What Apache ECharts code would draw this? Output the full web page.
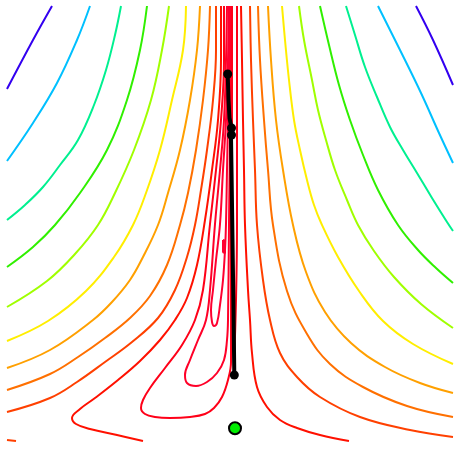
<!DOCTYPE html>
<html>
<head>
<meta charset="utf-8">
<script src="https://cdn.jsdelivr.net/npm/echarts@6/dist/echarts.min.js"></script>
<style>html,body{margin:0;padding:0;background:#fff;}#c{width:460px;height:449px;}</style>
</head>
<body>
<div id="c"></div>
<script>
// contour level colours (low -> high)
const levelColors = ['#ff0030','#ff0028','#ff0018','#ff1000','#ff4000','#ff7000','#ffa000','#ffee00','#a0ff00','#30f000','#00f090','#00c0ff','#3300f0'];

// traced contour polylines (x, y in plot units; y grows downward)
const blueL = [[52,6],[33,40],[7,89]];
const blueR = [[416,6],[433,40],[453,85]];
const cyanL = [[90,6],[77,40],[57,83],[33,123],[7,161]];
const cyanR = [[378,6],[400,50],[421,93],[439,133],[453,163]];
const sgL = [[121,6],[115,35],[106,70],[94,105],[78,140],[60,165],[43,187],[25,205],[7,220]];
const sgR = [[346,6],[355,35],[365,67],[377,97],[390,127],[403,150],[417,173],[432,198],[447,222],[453,231]];
const greenL = [[147,6],[140,50],[127,100],[107,150],[80,193],[55,225],[33,247],[7,267]];
const greenR = [[320,6],[329,45],[339,85],[350,120],[363,155],[378,190],[398,225],[418,250],[436,268],[453,283]];
const ygL = [[169,6],[162,50],[151,100],[134,150],[115,193],[98,225],[75,254],[47,281],[7,307]];
const ygR = [[299,6],[304,40],[312,80],[318,110],[326,140],[335,170],[347,200],[358,225],[374,251],[394,277],[421,304],[453,328]];
const yelL = [[186,6],[183,50],[172,100],[160,150],[146,193],[133,225],[114,257],[86,291],[48,321],[7,341]];
const yelR = [[282,6],[285,40],[289,80],[294,120],[300,150],[307,180],[314,205],[322,225],[338,257],[359,291],[383,321],[413,344],[453,364]];
const orL = [[200,6],[197,50],[190,100],[180,150],[168,193],[158,225],[143,257],[130,280],[112,302],[93,320],[50,350],[7,368]];
const orR = [[268,6],[271,60],[276,120],[283,170],[293,225],[306,272],[325,312],[351,343],[385,367],[420,383],[453,393]];
const doL = [[210,6],[208,50],[203,100],[196,150],[188,193],[180,225],[167,265],[150,296],[130,318],[105,338],[78,357],[50,374],[7,390]];
const doR = [[258,6],[260,60],[264,120],[268,170],[273,225],[287,291],[307,334],[330,364],[363,387],[407,406],[453,417]];
const orrL = [[216,6],[216,50],[213,100],[207,150],[201,190],[195,225],[187,257],[175,290],[158,318],[132,342],[105,362],[77,382],[50,398],[7,412]];
const orrR = [[250,6],[251,60],[253,120],[255,170],[257,225],[263,280],[270,320],[280,353],[297,377],[320,397],[360,417],[410,430],[453,437]];
const orrB = [[7,440],[16,441]];
const redWiggle = [[221,6],[221,60],[218,120],[212,170],[205,220],[197,265],[187,298],[175,320],[160,340],[140,361],[118,380],[95,398],[80,409],[72,418],[76,424],[90,429],[117,435],[143,441]];
const redR = [[241,6],[242,60],[243,120],[244,170],[245,225],[248,290],[250,320],[252,353],[257,387],[267,407],[280,420],[297,428],[320,435],[349,441]];
const loopA = [[224,6],[224,60],[221,120],[216,170],[210,224],[203,290],[195,320],[182,345],[165,368],[150,388],[143,400],[141,408],[145,414],[155,417],[170,418],[190,417],[205,414],[214,408],[222,397],[228,380],[231,362],[231,330],[231,290],[231,224],[232,120],[232,6]];
const arcR = [[237,6],[237,120],[237,225],[236,300],[234,364]];
const loopB = [[227,6],[226,60],[224,120],[220,170],[215,224],[210,290],[206,320],[198,340],[190,360],[185,375],[187,383],[196,386],[207,382],[217,373],[224,360],[227,340],[228,320],[229,224],[230,120],[230,6]];
const loopC = [[228.5,6],[228,60],[226,120],[223,170],[220,224],[216,260],[213,290],[211,310],[212,322],[214,326],[217,323],[220,305],[223,280],[225,250],[226,224],[227,170],[228,120],[229,60],[229.5,6]];
const islet = [[223,240],[225,241],[225,253],[223,252],[223,240]];

// optimisation path and points
const pathPts = [[227.7,74],[228.5,100],[229.5,118],[231.5,128],[232,134],[231,137],[231.5,170],[232.5,240],[233.5,310],[234.3,375]];
const pathDots = [[227.7,74],[231.5,128],[231.5,135],[234.3,375]];
const minimum = [[235,428.3]];

const contours = [
  [blueL,12],[blueR,12],[cyanL,11],[cyanR,11],[sgL,10],[sgR,10],
  [greenL,9],[greenR,9],[ygL,8],[ygR,8],[yelL,7],[yelR,7],
  [orL,6],[orR,6],[doL,5],[doR,5],[orrL,4],[orrR,4],[orrB,4],
  [redWiggle,3],[redR,3],[loopA,2],[arcR,2],[loopB,1],[loopC,0],[islet,0]
];

const series = contours.map(([pts, lvl]) => ({
  type: 'line', data: pts, showSymbol: false, smooth: 0.4,
  lineStyle: { color: levelColors[lvl], width: 2 }, silent: true, z: 2
}));
series.push({
  type: 'line', data: pathPts, showSymbol: false, smooth: false,
  lineStyle: { color: '#000', width: 4 }, z: 5
});
series.push({
  type: 'scatter', data: pathDots, symbolSize: 9,
  itemStyle: { color: '#000', opacity: 1 }, z: 6
});
series.push({
  type: 'scatter', data: minimum, symbolSize: 12,
  itemStyle: { color: '#00ee00', borderColor: '#000', borderWidth: 2, opacity: 1 }, z: 7
});

const chart = echarts.init(document.getElementById('c'), null, { renderer: 'canvas' });
chart.setOption({
  animation: false,
  backgroundColor: '#fff',
  grid: { left: 0, right: 0, top: 0, bottom: 0 },
  xAxis: { type: 'value', min: 0, max: 460, show: false },
  yAxis: { type: 'value', min: 0, max: 449, inverse: true, show: false },
  series: series
});
</script>
</body>
</html>
